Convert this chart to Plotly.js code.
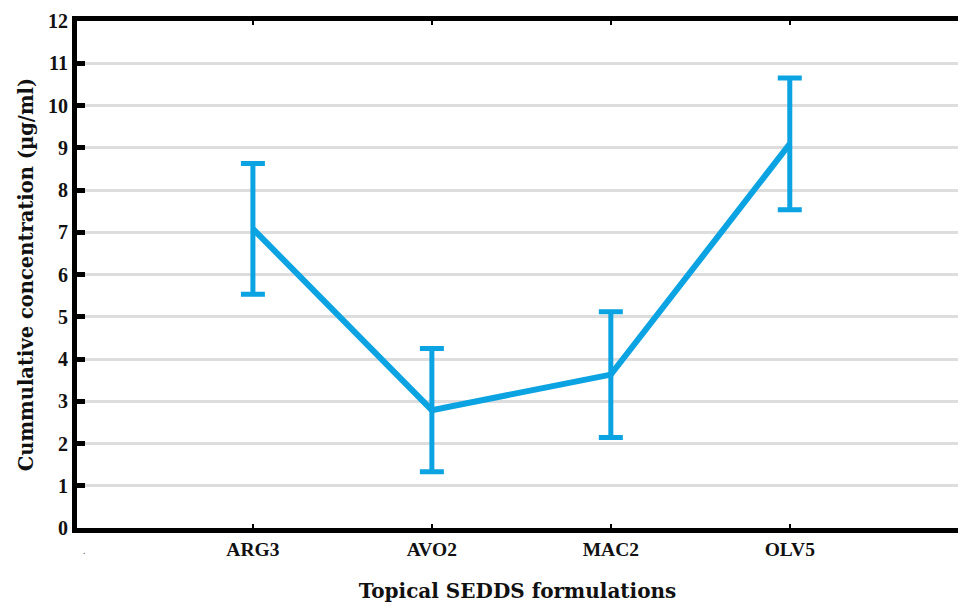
<!DOCTYPE html>
<html>
<head>
<meta charset="utf-8">
<script src="https://cdn.plot.ly/plotly-3.0.1.min.js"></script>
<style>html,body{margin:0;padding:0;background:#fff;}#chart{width:958px;height:604px;}</style>
</head>
<body>
<div id="chart"></div>
<script>
const categories = ["ARG3", "AVO2", "MAC2", "OLV5"];
const positions = [1, 2, 3, 4];
const meanValues = [7.08, 2.79, 3.63, 9.09];
const errorValues = [1.55, 1.46, 1.49, 1.56];
const xTitle = "Topical SEDDS formulations";
const yTitle = "Cummulative concentration (µg/ml)";

const FONT = "Liberation Serif, Times New Roman, serif";
const TFONT = "DejaVu Serif, serif";
const BLUE = "#0ba3e2";

const trace = {
  x: positions,
  y: meanValues,
  type: "scatter",
  mode: "lines",
  line: {color: BLUE, width: 6},
  error_y: {type: "data", array: errorValues, visible: true, color: BLUE, thickness: 5, width: 12},
  hoverinfo: "skip",
  showlegend: false
};

const layout = {
  width: 958, height: 604,
  margin: {l: 77, r: 0, t: 21, b: 76},
  paper_bgcolor: "#ffffff",
  plot_bgcolor: "#ffffff",
  font: {family: FONT, color: "#111111"},
  xaxis: {
    range: [0.017, 4.94],
    tickvals: positions,
    ticktext: categories,
    tickfont: {family: FONT, size: 19.5, weight: "bold", color: "#111111"},
    showline: true, linewidth: 5, linecolor: "#000000", mirror: "ticks",
    ticks: "inside", ticklen: 4, tickwidth: 2, tickcolor: "#000000",
    showgrid: false, zeroline: false,
    title: {text: xTitle, font: {family: TFONT, size: 20, weight: "bold", color: "#111111"}, standoff: 26}
  },
  yaxis: {
    range: [0, 12],
    dtick: 1, tick0: 0,
    tickfont: {family: FONT, size: 20, weight: "bold", color: "#111111"},
    showline: true, linewidth: 5, linecolor: "#000000",
    ticks: "inside", ticklen: 8, tickwidth: 5, tickcolor: "#000000",
    showgrid: true, gridcolor: "#dddddd", gridwidth: 3,
    zeroline: false,
    title: {text: yTitle, font: {family: TFONT, size: 19.5, weight: "bold", color: "#111111"}, standoff: 11}
  },
  annotations: [{
    text: ".", xref: "paper", yref: "paper", x: 0.004, y: -0.06,
    showarrow: false, font: {family: FONT, size: 10, color: "#555555"}
  }]
};

Plotly.newPlot("chart", [trace], layout, {displayModeBar: false, staticPlot: true});
</script>
</body>
</html>
